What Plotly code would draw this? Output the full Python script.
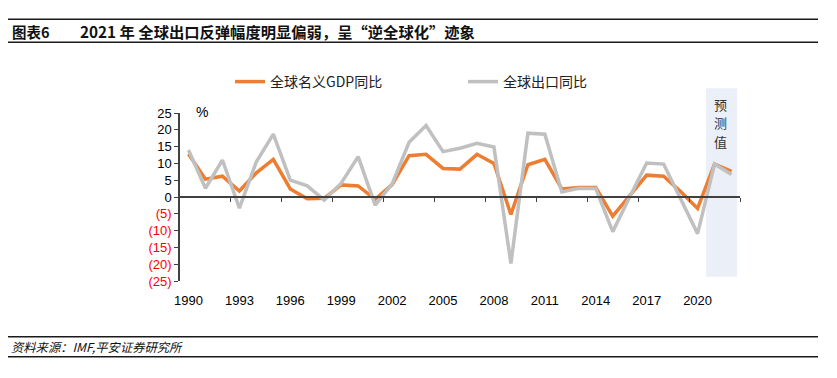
import plotly.graph_objects as go

# ---------------- data ----------------
years = list(range(1990, 2023))
gdp_yoy = [12.8, 5.3, 6.2, 1.8, 7.2, 11.2, 2.4, -0.5, -0.4, 3.6, 3.3, -0.7, 3.7,
           12.3, 12.7, 8.5, 8.3, 12.7, 10.0, -5.2, 9.6, 11.2, 2.4, 2.8, 2.8,
           -5.7, 0.4, 6.5, 6.2, 1.6, -3.4, 9.8, 7.6]
export_yoy = [14.0, 2.6, 11.0, -3.3, 10.5, 18.7, 5.0, 3.3, -0.9, 4.1, 12.0, -2.4, 3.9,
              16.3, 21.3, 13.5, 14.5, 16.0, 14.9, -19.8, 19.0, 18.7, 1.5, 2.6, 2.5,
              -10.3, 0.0, 10.1, 9.8, -0.6, -10.9, 9.8, 6.7]
x_label_years = list(range(1990, 2021, 3))
x_tick_bounds = [y + 0.5 for y in range(1992, 2023, 3)]
y_tick_vals = [25, 20, 15, 10, 5, 0, -5, -10, -15, -20, -25]
y_tick_text = [str(v) if v >= 0 else "<span style='color:#FF0000'>(%d)</span>" % (-v)
               for v in y_tick_vals]
series_names = ["全球名义GDP同比", "全球出口同比"]
forecast_chars = ["预", "测", "值"]
title_prefix = "图表6"
title_text = "2021 年 全球出口反弹幅度明显偏弱，呈“逆全球化”迹象"
source_text = "资料来源：IMF,平安证券研究所"

# ---------------- layout geometry ----------------
W, H = 837, 378
L, R, T, B = 180, 97, 113, 97
PW, PH = W - L - R, H - T - B
XMIN, XMAX = 1989.5, 2022.5
YMIN, YMAX = -25, 25


def px_x(px):
    return (px - L) / PW


def px_y(py):
    return (H - B - py) / PH


FONT = "Liberation Sans, Arial, Noto Sans CJK SC, sans-serif"
CJK = "Noto Sans CJK SC, Liberation Sans, sans-serif"
AXC = "#404040"

fig = go.Figure()
fig.add_trace(go.Scatter(x=years, y=gdp_yoy, name=series_names[0], mode="lines",
                         line=dict(color="#ED7D31", width=3.5)))
fig.add_trace(go.Scatter(x=years, y=export_yoy, name=series_names[1], mode="lines",
                         line=dict(color="#C0C0C0", width=3.5)))
fig.add_trace(go.Scatter(x=[None], y=[None], xaxis="x2", showlegend=False,
                         hoverinfo="skip"))

zero_frac = (0 - YMIN) / (YMAX - YMIN)

shapes = [
    # forecast shading
    dict(type="rect", xref="paper", yref="paper",
         x0=(2020.5 - XMIN) / (XMAX - XMIN), x1=(2022.33 - XMIN) / (XMAX - XMIN),
         y0=px_y(276.7), y1=px_y(88.3),
         fillcolor="#EBF0F8", line=dict(width=0), layer="below"),
]
for yy in (19.3, 42.3, 336.7, 356.7):
    shapes.append(dict(type="line", xref="paper", yref="paper",
                       x0=px_x(8), x1=px_x(818), y0=px_y(yy), y1=px_y(yy),
                       line=dict(color="#1a1a1a", width=1.6)))

annotations = [
    dict(text="%", xref="paper", yref="paper", x=px_x(194), y=px_y(112),
         xanchor="left", yanchor="middle", showarrow=False,
         font=dict(family=FONT, size=14, color="#000")),
    dict(text="<b>" + title_prefix + "</b>", xref="paper", yref="paper",
         x=px_x(10), y=px_y(31), xanchor="left", yanchor="middle", showarrow=False,
         font=dict(family=CJK, size=14.5, color="#111")),
    dict(text="<b>" + title_text + "</b>", xref="paper", yref="paper",
         x=px_x(78), y=px_y(31), xanchor="left", yanchor="middle", showarrow=False,
         font=dict(family=CJK, size=15.3, color="#111")),
    dict(text="<i>" + source_text + "</i>", xref="paper", yref="paper",
         x=px_x(9), y=px_y(347), xanchor="left", yanchor="middle", showarrow=False,
         font=dict(family=CJK, size=12.3, color="#111")),
]
for i, ch in enumerate(forecast_chars):
    annotations.append(dict(text=ch, xref="paper", yref="paper",
                            x=(2021.35 - XMIN) / (XMAX - XMIN), y=px_y(104 + 18.5 * i),
                            xanchor="center", yanchor="middle", showarrow=False,
                            font=dict(family=CJK, size=13, color="#333")))

fig.update_layout(
    width=W, height=H,
    margin=dict(l=L, r=R, t=T, b=B, autoexpand=False),
    paper_bgcolor="white", plot_bgcolor="rgba(0,0,0,0)",
    font=dict(family=FONT, size=13, color="#000"),
    showlegend=True,
    legend=dict(orientation="h", x=px_x(230), y=px_y(82), xanchor="left",
                yanchor="middle", entrywidth=188, entrywidthmode="pixels",
                itemwidth=30, bgcolor="rgba(0,0,0,0)",
                font=dict(family=CJK, size=14, color="#222")),
    xaxis=dict(range=[XMIN, XMAX], tickvals=x_label_years,
               ticktext=[str(v) for v in x_label_years],
               ticks="outside", ticklen=7, tickcolor="rgba(0,0,0,0)",
               showline=False, showgrid=False, zeroline=False,
               tickfont=dict(family=FONT, size=13, color="#000")),
    xaxis2=dict(range=[XMIN, XMAX], overlaying="x", anchor="free",
                position=zero_frac, side="bottom",
                tickvals=x_tick_bounds, ticks="outside", ticklen=4,
                tickcolor=AXC, tickwidth=1.2, showticklabels=False,
                showline=True, linecolor=AXC, linewidth=1.5,
                showgrid=False, zeroline=False),
    yaxis=dict(range=[YMIN, YMAX], tickvals=y_tick_vals, ticktext=y_tick_text,
               ticks="outside", ticklen=4, tickcolor=AXC, tickwidth=1.2,
               showline=True, linecolor=AXC, linewidth=1.5,
               showgrid=False, zeroline=False,
               tickfont=dict(family=FONT, size=13, color="#000")),
    shapes=shapes,
    annotations=annotations,
)

fig.write_html("out.html",
               config={"displayModeBar": False},
               post_script="document.body.style.margin='0';"
                           "document.body.style.overflow='hidden';")
